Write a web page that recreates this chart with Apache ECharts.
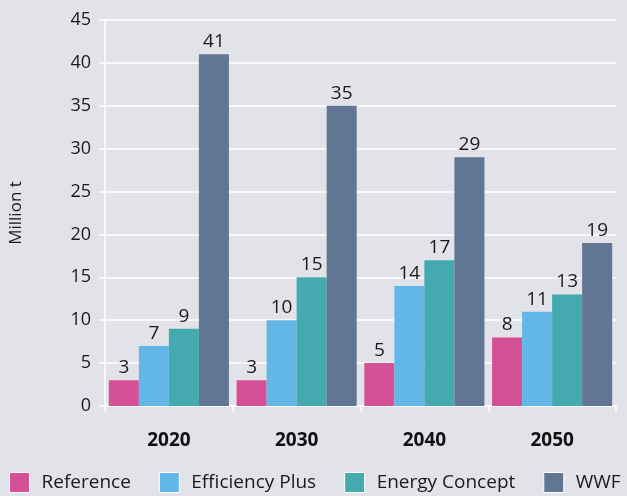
<!DOCTYPE html>
<html>
<head>
<meta charset="utf-8">
<script src="https://cdn.jsdelivr.net/npm/echarts@6/dist/echarts.min.js"></script>
<style>
  html, body { margin: 0; padding: 0; background: #e2e3e8; }
  #chart { width: 627px; height: 496px; }
</style>
</head>
<body>
<div id="chart"></div>
<script>
// categories and series values
const years = ["2020", "2030", "2040", "2050"];
const referenceData = [3, 3, 5, 8];
const efficiencyPlusData = [7, 10, 14, 11];
const energyConceptData = [9, 15, 17, 13];
const wwfData = [41, 35, 29, 19];

const seriesNames = ["Reference", "Efficiency Plus", "Energy Concept", "WWF"];
const seriesColors = ["#d55096", "#62b7e8", "#44aab0", "#617594"];
const seriesValues = [referenceData, efficiencyPlusData, energyConceptData, wwfData];

const fontFamily = "'Open Sans', 'DejaVu Sans', sans-serif";

const chart = echarts.init(document.getElementById("chart"));

const series = seriesNames.map((name, i) => ({
  name: name,
  type: "bar",
  data: seriesValues[i],
  barGap: "0%",
  barCategoryGap: "6%",
  itemStyle: { color: seriesColors[i] },
  label: {
    show: true,
    position: "top",
    distance: 3,
    color: "#1a1a1a",
    fontSize: 19,
    fontFamily: fontFamily
  }
}));

const option = {
  backgroundColor: "#e2e3e8",
  animation: false,
  grid: { left: 102, right: 11, top: 20, bottom: 90 },
  legend: {
    bottom: 3,
    left: 9,
    width: 618,
    padding: 0,
    itemWidth: 20,
    itemHeight: 20,
    itemGap: 28,
    icon: "rect",
    itemStyle: { borderColor: "#ffffff", borderWidth: 1 },
    textStyle: { color: "#1a1a1a", fontSize: 19, fontFamily: fontFamily, padding: [0, 0, 0, 7] },
    data: seriesNames
  },
  xAxis: {
    type: "category",
    data: years,
    axisLine: { show: true, lineStyle: { color: "#ffffff", width: 1.5 } },
    axisTick: { show: true, length: 6, lineStyle: { color: "#ffffff", width: 1.5 } },
    axisLabel: {
      color: "#111111",
      fontSize: 19,
      fontWeight: "bold",
      fontFamily: fontFamily,
      margin: 25
    }
  },
  yAxis: {
    type: "value",
    min: 0,
    max: 45,
    interval: 5,
    name: "Million t",
    nameLocation: "middle",
    nameGap: 80,
    nameTextStyle: { color: "#1a1a1a", fontSize: 17, fontFamily: fontFamily },
    axisLine: { show: true, lineStyle: { color: "#ffffff", width: 1.5 } },
    axisTick: { show: true, length: 6, lineStyle: { color: "#ffffff", width: 1.5 } },
    axisLabel: { color: "#1a1a1a", fontSize: 18, fontFamily: fontFamily, margin: 14 },
    splitLine: { show: true, lineStyle: { color: "#ffffff", width: 1.5 } }
  },
  series: series
};

chart.setOption(option);
</script>
</body>
</html>
